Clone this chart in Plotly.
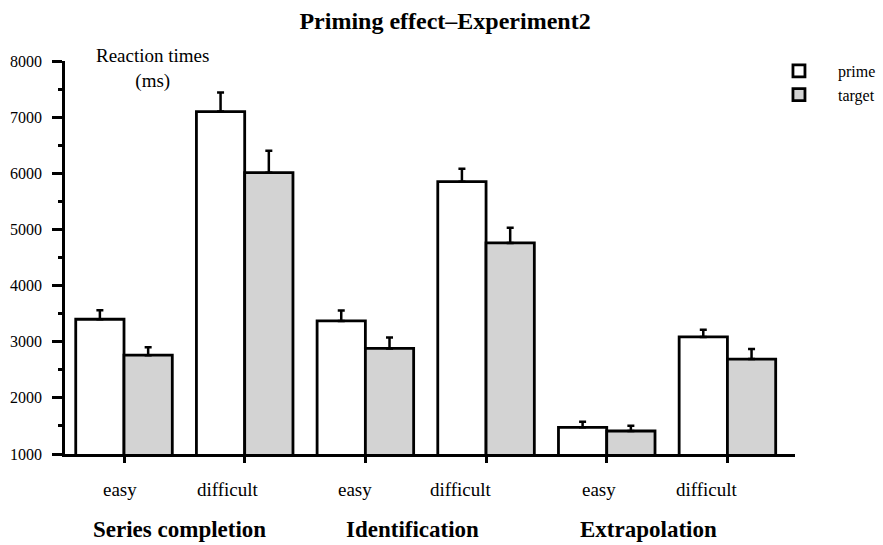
import plotly.graph_objects as go

categories = ["easy", "difficult", "easy", "difficult", "easy", "difficult"]
groups = ["Series completion", "Identification", "Extrapolation"]
prime = [3400, 7100, 3370, 5850, 1475, 3085]
prime_err = [160, 340, 185, 230, 100, 130]
target = [2760, 6010, 2880, 4760, 1410, 2690]
target_err = [140, 390, 195, 270, 95, 180]
y_ticks = [1000, 2000, 3000, 4000, 5000, 6000, 7000, 8000]

pos = list(range(len(categories)))
FONT = "Liberation Serif"

fig = go.Figure()
fig.add_trace(go.Bar(
    x=pos, y=prime, name="prime",
    marker=dict(color="white", line=dict(color="black", width=2.8)),
    error_y=dict(type="data", array=prime_err, arrayminus=[0]*6, symmetric=False,
                 color="black", thickness=2.5, width=3.5),
))
fig.add_trace(go.Bar(
    x=pos, y=target, name="target",
    marker=dict(color="#d3d3d3", line=dict(color="black", width=2.8)),
    error_y=dict(type="data", array=target_err, arrayminus=[0]*6, symmetric=False,
                 color="black", thickness=2.5, width=3.5),
))

annotations = []
cat_shift = [-4, -17, -10, -25, -8, -20]
for i, c in enumerate(categories):
    annotations.append(dict(x=i, y=0, xref="x", yref="paper", text=c, showarrow=False,
                            xshift=cat_shift[i], yshift=-35, yanchor="middle",
                            font=dict(family=FONT, size=19, color="black")))
grp_shift = [-5, -13, -19]
for g, name in enumerate(groups):
    annotations.append(dict(x=2*g + 0.5, y=0, xref="x", yref="paper", text=name, showarrow=False,
                            xshift=grp_shift[g], yshift=-75, yanchor="middle",
                            font=dict(family=FONT, size=23, color="black", weight="bold")))
annotations.append(dict(x=0.1205, y=0.981, xref="paper", yref="paper",
                        text="Reaction times<br>(ms)", showarrow=False,
                        xanchor="center", yanchor="middle",
                        font=dict(family=FONT, size=19, color="black")))

fig.update_layout(
    width=883, height=545,
    margin=dict(l=65, r=88, t=61, b=91, autoexpand=False),
    paper_bgcolor="white", plot_bgcolor="white",
    barmode="group", bargap=0.2, bargroupgap=0,
    title=dict(text="Priming effect–Experiment2", x=0.504, y=0.963, xanchor="center", yanchor="middle",
               font=dict(family=FONT, size=24, color="black", weight="bold")),
    showlegend=True,
    legend=dict(x=0.952, y=1.018, xanchor="left", yanchor="top", itemwidth=68,
                font=dict(family=FONT, size=16, color="black"), bgcolor="rgba(0,0,0,0)"),
    annotations=annotations,
    xaxis=dict(range=[-0.489, 5.56], tickvals=pos, showticklabels=False, ticks="outside",
               ticklen=6, tickwidth=2.5, tickcolor="black", showline=True, linecolor="black",
               linewidth=2.5, showgrid=False, zeroline=False, fixedrange=True),
    yaxis=dict(range=[1000, 8000], tickvals=y_ticks, ticks="outside", ticklen=10, tickwidth=2.5,
               tickcolor="black", showline=True, linecolor="black", linewidth=2.5,
               showgrid=False, zeroline=False, ticklabelstandoff=7, fixedrange=True,
               tickfont=dict(family=FONT, size=16, color="black"),
               minor=dict(dtick=500, tick0=500, ticks="outside", ticklen=4, tickwidth=2.5,
                          tickcolor="black", showgrid=False)),
)

fig.write_html("out.html", config={"displayModeBar": False},
               post_script="document.body.style.margin='0';")
